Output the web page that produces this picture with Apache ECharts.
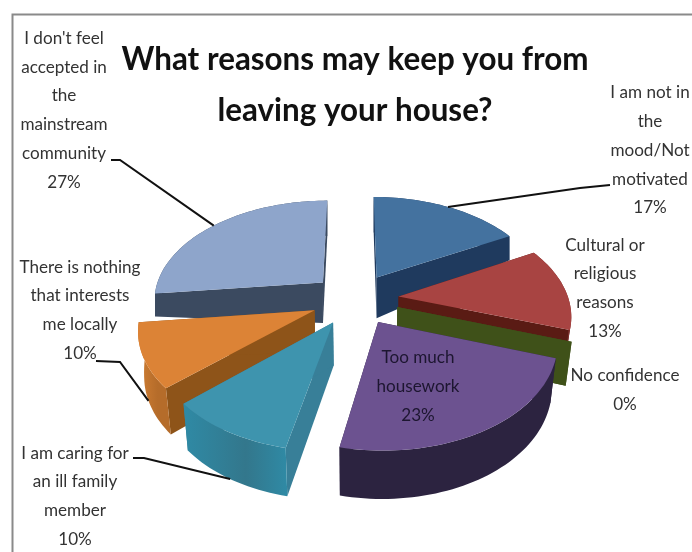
<!DOCTYPE html>
<html>
<head>
<meta charset="utf-8">
<style>html,body{margin:0;padding:0;background:#fff}#chart{width:692px;height:552px}</style>
<script src="https://cdn.jsdelivr.net/npm/echarts@6/dist/echarts.min.js"></script>
</head>
<body>
<div id="chart"></div>
<script>
// Survey answers, clockwise from twelve o'clock
const categories = [
  'I am not in\nthe\nmood/Not\nmotivated',
  'Cultural or\nreligious\nreasons',
  'No confidence',
  'Too much\nhousework',
  'I am caring for\nan ill family\nmember',
  'There is nothing\nthat interests\nme locally',
  "I don't feel\naccepted in\nthe\nmainstream\ncommunity"
];
const percentages = [17, 13, 0, 23, 10, 10, 27];
const titleLines = ['What reasons may keep you from', 'leaving your house?'];

// Appearance of each slice: top face, radial faces, rim gradient
const looks = [
  { top: '#44729f', side: '#1f3a5e', rim: ['#1f3a5e', '#1f3a5e'] },
  { top: '#a84442', side: '#5a1b14', rim: ['#7c2f2c', '#7c2f2c'] },
  { top: '#3f5119', side: '#3f5119', rim: ['#3f5119', '#3f5119'] },
  { top: '#6c5290', side: '#2e2440', rim: ['#4a3a63', '#2c2340'] },
  { top: '#3e94ae', side: '#387f98', rim: ['#2f8aa5', '#33778c'] },
  { top: '#dc8336', side: '#8e5419', rim: ['#d07e33', '#b56c2a'] },
  { top: '#8ea5cb', side: '#3b4a60', rim: ['#3b4a60', '#3b4a60'] }
];

// Where each caption sits, and the bend of its leader line if it has one
const captions = [
  { x: 650, y: 150, leader: [[610, 185], [580, 188]] },
  { x: 605, y: 288, leader: null },
  { x: 625, y: 390, leader: null },
  { x: 418, y: 386, leader: null },
  { x: 75, y: 496, leader: [[133, 458], [144, 458]] },
  { x: 80, y: 310, leader: [[96, 361], [120, 362]] },
  { x: 64, y: 110, leader: [[111, 160], [120, 160]] }
];

// Perspective view of the pie plane
const view = { cx: 355, cy: 299, radius: 170, tilt: 0.587, persp: 0.16, explode: 0.258, twist: 0.018 };
const captionFont = 'Lato, "Open Sans", sans-serif';

function project(u, v) {
  const f = 1 / (1 + view.persp * v);
  return [
    view.cx + view.radius * u * f,
    view.cy - view.radius * view.tilt * v * f
  ];
}

// Thickness of the pie as seen at a plane position
function thickness(u, v) {
  const shrink = Math.max(0, Math.min(14, 11.7 + 30 * v));
  return 42 - 5.2 * v - u * u * shrink;
}

// Vertical edges lean inward a little toward the viewer
function lean(u, v) {
  return -u * Math.max(0, Math.min(5, -25 * v));
}

// The near half of the rim sits slightly further round than the far half
function planePoint(off, angle, r) {
  const a = angle + view.twist * (1 - Math.cos(angle)) / 2;
  return [off[0] + r * Math.sin(a), off[1] + r * Math.cos(a)];
}

function topPoint(off, angle, r) {
  const q = planePoint(off, angle, r);
  return project(q[0], q[1]);
}

function bottomPoint(off, angle, r) {
  const q = planePoint(off, angle, r);
  const p = project(q[0], q[1]);
  return [p[0] + lean(q[0], q[1]), p[1] + thickness(q[0], q[1])];
}

function sampleAngles(a0, a1) {
  const n = Math.max(1, Math.ceil((a1 - a0) / 0.03));
  const out = [];
  for (let i = 0; i <= n; i++) out.push(a0 + (a1 - a0) * i / n);
  return out;
}

const total = percentages.reduce((s, x) => s + x, 0);

// Paint back slices first so nearer ones overlap them
function depthOf(index) {
  let before = 0;
  for (let i = 0; i < index; i++) before += percentages[i];
  const mid = (before + percentages[index] / 2) / total * 2 * Math.PI;
  return Math.cos(mid);
}
const paintRank = percentages
  .map((_, i) => i)
  .sort((a, b) => depthOf(b) - depthOf(a));

function renderSlice(params, api) {
  const i = params.dataIndex;
  const value = api.value(0);
  let before = 0;
  for (let k = 0; k < i; k++) before += percentages[k];
  const a0 = before / total * 2 * Math.PI;
  const a1 = (before + value) / total * 2 * Math.PI;
  const mid = (a0 + a1) / 2;
  const off = [view.explode * Math.sin(mid), view.explode * Math.cos(mid)];
  const look = looks[i];
  const base = (paintRank.indexOf(i) + 1) * 10;
  const children = [];

  const poly = (points, fill, z2) => ({
    type: 'polygon', z2: z2,
    shape: { points: points },
    style: { fill: fill, stroke: null }
  });

  const apexTop = topPoint(off, 0, 0);
  const apexBottom = bottomPoint(off, 0, 0);

  // Radial faces; a zero share still shows its single wall
  [a0, a1].forEach(function (a) {
    children.push(poly(
      [apexTop, topPoint(off, a, 1), bottomPoint(off, a, 1), apexBottom],
      look.side, base
    ));
  });

  if (value > 0) {
    const angles = sampleAngles(a0, a1);
    const rimPts = angles.map(a => topPoint(off, a, 1))
      .concat(angles.slice().reverse().map(a => bottomPoint(off, a, 1)));
    children.push(poly(rimPts, new echarts.graphic.LinearGradient(0, 0, 1, 0, [
      { offset: 0, color: i >= 4 ? look.rim[0] : look.rim[1] },
      { offset: 0.6, color: look.rim[1] },
      { offset: 1, color: i === 4 ? look.rim[0] : look.rim[1] }
    ]), base + 1));
    children.push(poly(
      [apexTop].concat(angles.map(a => topPoint(off, a, 1))),
      look.top, base + 2
    ));
  }

  // Caption with its share
  const cap = captions[i];
  children.push({
    type: 'text', z2: 500,
    x: cap.x, y: cap.y, scaleX: 0.95,
    style: {
      text: categories[i] + '\n' + value + '%',
      font: '18px ' + captionFont,
      fill: i === 3 ? '#1d1630' : '#333',
      align: 'center', verticalAlign: 'middle',
      lineHeight: 28.7
    }
  });

  if (cap.leader) {
    const onFront = Math.cos(mid) < 0;
    const end = onFront ? bottomPoint(off, mid, 1) : topPoint(off, mid, 1);
    children.push({
      type: 'polyline', z2: 400,
      shape: { points: cap.leader.concat([end]) },
      style: { stroke: '#111', lineWidth: 2, fill: null }
    });
  }

  return { type: 'group', children: children };
}

const chart = echarts.init(document.getElementById('chart'));
chart.setOption({
  animation: false,
  backgroundColor: '#fff',
  graphic: [{
    type: 'rect', silent: true, z: -1,
    shape: { x: 12.5, y: 14.5, width: 690, height: 560 },
    style: { fill: '#fff', stroke: '#8a8a8a', lineWidth: 2 }
  }, {
    type: 'text', silent: true, z: 10,
    x: 355, y: 85, scaleX: 0.95,
    style: {
      text: titleLines.join('\n'),
      font: 'bold 33px ' + captionFont,
      lineHeight: 51,
      fill: '#111',
      align: 'center', verticalAlign: 'middle'
    }
  }],
  series: [{
    type: 'custom',
    coordinateSystem: 'none',
    renderItem: renderSlice,
    data: percentages.map(p => [p]),
    encode: { value: 0 },
    silent: true,
    clip: false
  }]
});
</script>
</body>
</html>
